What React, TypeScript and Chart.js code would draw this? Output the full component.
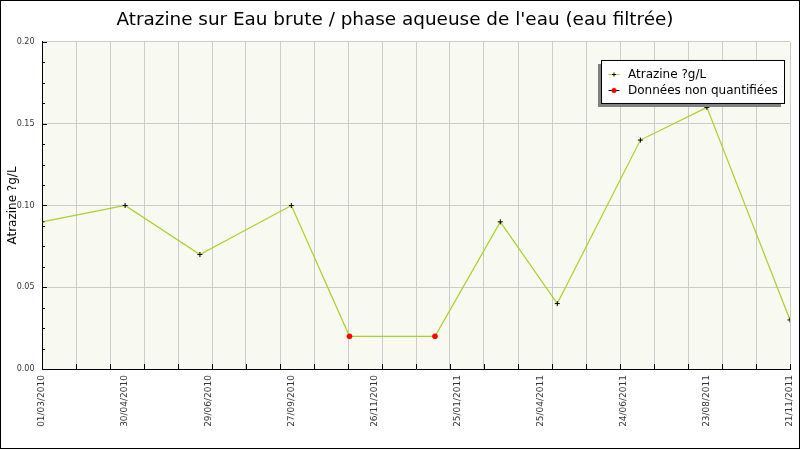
import { useEffect, useRef } from "react";
import { Chart, registerables, type Plugin } from "chart.js";

Chart.register(...registerables);

// sampling dates and measured values
const sampleDates = [
  "2010-03-01", "2010-05-10", "2010-07-12", "2010-09-27", "2010-11-15", "2011-01-26",
  "2011-03-22", "2011-05-09", "2011-07-18", "2011-09-12", "2011-11-21",
];
const atrazine = [0.09, 0.1, 0.07, 0.1, 0.02, 0.02, 0.09, 0.04, 0.14, 0.16, 0.03];
const quantified = [true, true, true, true, false, false, true, true, true, true, true];

// axis labels as printed on the original
const dateLabels = [
  "01/03/2010", "30/04/2010", "29/06/2010", "27/09/2010", "26/11/2010",
  "25/01/2011", "25/04/2011", "24/06/2011", "23/08/2011", "21/11/2011",
];
const yMajor = [0, 0.05, 0.1, 0.15, 0.2];

const TITLE = "Atrazine sur Eau brute / phase aqueuse de l'eau (eau filtrée)";
const UNIT = "Atrazine ?g/L";
const GREEN = "#a8d22c";
const FONT = "DejaVu Sans";
const GRID_STEPS = 22;
const Y_MINOR = 4;

const start = Date.parse(sampleDates[0]);
const dayOf = (d: string) => Math.round((Date.parse(d) - start) / 86400000);
const xMax = dayOf(sampleDates[sampleDates.length - 1]);

const frame: Plugin = {
  id: "frame",
  beforeDraw(chart) {
    const { ctx, chartArea: a } = chart;
    ctx.save();
    ctx.fillStyle = "#fff";
    ctx.fillRect(0, 0, chart.width, chart.height);
    ctx.fillStyle = "#f8f9f0";
    ctx.fillRect(a.left, a.top, a.right - a.left, a.bottom - a.top);
    ctx.restore();
  },
  afterDraw(chart) {
    const { ctx, chartArea: a } = chart;
    const xs: any = chart.scales.x;
    const ys: any = chart.scales.y;
    ctx.save();
    ctx.strokeStyle = "#000";
    ctx.lineWidth = 1;
    ctx.beginPath();
    // inward tick marks
    xs.ticks.forEach((t: any) => {
      if (!t.grid) return;
      const px = Math.round(xs.getPixelForValue(t.value)) + 0.5;
      ctx.moveTo(px, a.bottom);
      ctx.lineTo(px, a.bottom - 5);
    });
    ys.ticks.forEach((t: any) => {
      const py = Math.round(ys.getPixelForValue(t.value)) + 0.5;
      ctx.moveTo(a.left, py);
      ctx.lineTo(a.left + (t.main ? 5 : 3), py);
    });
    ctx.stroke();

    // legend box
    const bx = a.right - 188.5;
    const by = a.top + 18.5;
    const bw = 183;
    const bh = 43;
    ctx.fillStyle = "#808080";
    ctx.fillRect(bx - 3.5, by + 3.5, bw, bh);
    ctx.fillStyle = "#fff";
    ctx.fillRect(bx, by, bw, bh);
    ctx.strokeRect(bx, by, bw, bh);
    ctx.font = `12px ${FONT}`;
    ctx.textBaseline = "middle";
    chart.data.datasets.forEach((ds: any, i) => {
      const y = Math.round(by + 13.5 + i * 16.5) + 0.5;
      const x = bx + 7;
      ctx.strokeStyle = ds.borderColor;
      ctx.beginPath();
      ctx.moveTo(x, y);
      ctx.lineTo(x + 11, y);
      ctx.stroke();
      if (ds.pointStyle === "cross") {
        ctx.strokeStyle = "#000";
        ctx.beginPath();
        ctx.moveTo(x + 3.5, y);
        ctx.lineTo(x + 7.5, y);
        ctx.moveTo(x + 5.5, y - 2);
        ctx.lineTo(x + 5.5, y + 2);
        ctx.stroke();
      } else {
        ctx.fillStyle = ds.pointBackgroundColor;
        ctx.beginPath();
        ctx.arc(x + 5.5, y, 2.5, 0, Math.PI * 2);
        ctx.fill();
      }
      ctx.fillStyle = "#000";
      ctx.fillText(ds.label, bx + 26.5, y);
    });

    ctx.strokeStyle = "#000";
    ctx.strokeRect(0.5, 0.5, chart.width - 1, chart.height - 2);
    ctx.restore();
  },
};

export default function App() {
  const canvasRef = useRef<HTMLCanvasElement>(null);

  useEffect(() => {
    if (!canvasRef.current) return;
    document.body.style.margin = "0";

    const points = sampleDates.map((d, i) => ({ x: dayOf(d), y: atrazine[i] }));
    const notQuantified = points.filter((_, i) => !quantified[i]);

    const chart = new Chart(canvasRef.current, {
      type: "line",
      data: {
        datasets: [
          {
            label: UNIT,
            data: points,
            borderColor: GREEN,
            borderWidth: 1.2,
            tension: 0,
            pointStyle: "cross",
            pointRadius: (c: any) => (quantified[c.dataIndex] ? 2.5 : 0),
            pointBorderColor: "#000",
            pointBorderWidth: 1,
            order: 1,
          },
          {
            label: "Données non quantifiées",
            data: notQuantified,
            showLine: false,
            borderColor: "#000",
            pointStyle: "circle",
            pointRadius: 2.6,
            pointBackgroundColor: "#ff0000",
            pointBorderColor: "#ff0000",
            pointBorderWidth: 0.5,
            order: 0,
          },
        ],
      },
      options: {
        responsive: false,
        animation: false,
        layout: { padding: { left: 0, right: 10, top: 0, bottom: 0 } },
        plugins: {
          legend: { display: false },
          tooltip: { enabled: false },
          title: {
            display: true,
            text: TITLE,
            color: "#000",
            font: { family: FONT, size: 18.4, weight: "normal" },
            padding: { top: 9, bottom: 10.9 },
          },
        },
        scales: {
          x: {
            type: "linear",
            min: 0,
            max: xMax,
            afterFit: (s: any) => {
              s.height = 81;
              s.paddingLeft = 0;
              s.paddingRight = 0;
            },
            afterBuildTicks: (s) => {
              const ticks: any[] = [];
              for (let i = 0; i <= GRID_STEPS; i++) ticks.push({ value: (xMax * i) / GRID_STEPS, grid: true });
              dateLabels.forEach((lbl, i) => {
                const v = (xMax * i) / (dateLabels.length - 1);
                const same = ticks.find((t) => Math.abs(t.value - v) < 1e-6);
                if (same) same.lbl = lbl;
                else ticks.push({ value: v, lbl });
              });
              ticks.sort((p, q) => p.value - q.value);
              s.ticks = ticks;
            },
            grid: {
              drawTicks: false,
              color: (c: any) => (c.tick && c.tick.grid && c.tick.value > 0 ? "#cccccc" : "transparent"),
            },
            border: { color: "#000", width: 1 },
            ticks: {
              autoSkip: false,
              minRotation: 90,
              maxRotation: 90,
              padding: 6,
              color: "#333",
              font: { family: FONT, size: 9 },
              callback: (_v: any, i: number, ticks: any[]) => ticks[i].lbl ?? "",
            },
          },
          y: {
            type: "linear",
            min: 0,
            max: 0.2,
            afterFit: (s: any) => {
              s.width = 42;
              s.paddingTop = 0;
              s.paddingBottom = 0;
            },
            afterBuildTicks: (s) => {
              const ticks: any[] = [];
              yMajor.forEach((v, i) => {
                ticks.push({ value: v, main: true });
                if (i < yMajor.length - 1) {
                  const step = (yMajor[i + 1] - v) / Y_MINOR;
                  for (let k = 1; k < Y_MINOR; k++) ticks.push({ value: v + k * step });
                }
              });
              s.ticks = ticks;
            },
            grid: {
              drawTicks: false,
              color: (c: any) => (c.tick && c.tick.main && c.tick.value > 0 ? "#cccccc" : "transparent"),
            },
            border: { color: "#000", width: 1 },
            title: {
              display: true,
              text: UNIT,
              color: "#000",
              font: { family: FONT, size: 12 },
              padding: { top: 6, bottom: 0 },
            },
            ticks: {
              autoSkip: false,
              padding: 7.5,
              color: "#333",
              font: { family: FONT, size: 8 },
              callback: (v: any, i: number, ticks: any[]) => (ticks[i].main ? Number(v).toFixed(2) : ""),
            },
          },
        },
      },
      plugins: [frame],
    });

    return () => {
      chart.destroy();
    };
  }, []);

  return (
    <div style={{ width: 800, height: 450 }}>
      <canvas ref={canvasRef} width={800} height={450} style={{ display: "block" }} />
    </div>
  );
}
